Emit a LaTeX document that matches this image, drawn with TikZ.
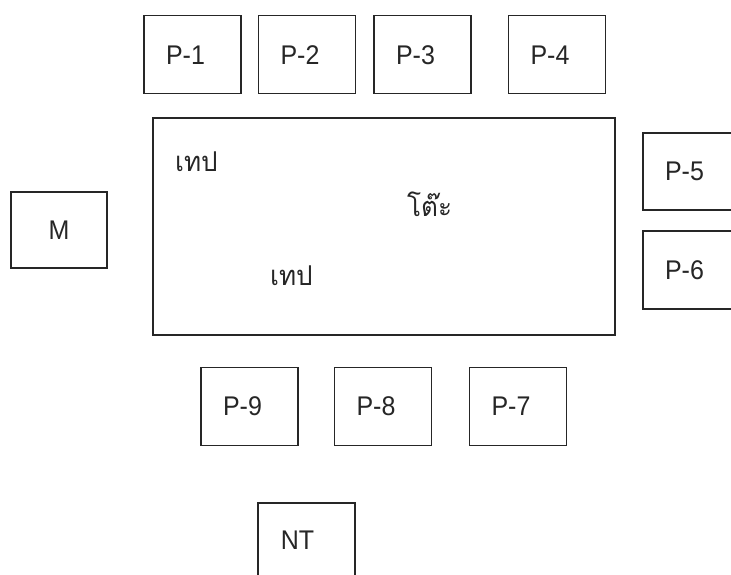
\documentclass[tikz,border=0pt]{standalone}
\usepackage{fontspec}
\setmainfont{Liberation Sans}
\newfontfamily\thaifont[Script=Thai]{Loma}
\tikzset{
  seat/.style={draw=black!85, line width=1.4pt, minimum width=97pt, minimum height=78pt, inner sep=0pt},
  lbl/.style={font=\fontsize{25}{30}\selectfont, text=black!85, inner sep=0pt, yscale=1.08},
  thai/.style={font=\thaifont\fontsize{26}{30}\selectfont, text=black!85, inner sep=0pt, anchor=base west, yscale=1.05},
}
\begin{document}
\begin{tikzpicture}[x=1pt,y=1pt]
\useasboundingbox (0,0) rectangle (731,574);
\clip (0,0) rectangle (731,574);
% table
\node[draw=black!85, line width=1.4pt, minimum width=462pt, minimum height=217pt, inner sep=0pt] (table) at (384,347.5) {};
% seats top
\node[seat] (p1) at (192.5,519.25) {};
\node[seat] (p2) at (307,519.25) {};
\node[seat] (p3) at (422.5,519.25) {};
\node[seat] (p4) at (557,519.25) {};
% seats right
\node[seat, minimum height=77pt] (p5) at (691.5,402.5) {};
\node[seat] (p6) at (691.5,304) {};
% seats bottom
\node[seat] (p9) at (249.5,167.5) {};
\node[seat] (p8) at (383,167.5) {};
\node[seat] (p7) at (518,167.5) {};
% M and NT
\node[seat, minimum width=96pt, minimum height=76pt] (m) at (59,344) {};
\node[seat] (nt) at (306.5,32) {};
% labels
\node[lbl] (l1) at ([xshift=-7pt]p1.center) {P-1};
\node[lbl] (l2) at ([xshift=-7pt]p2.center) {P-2};
\node[lbl] (l3) at ([xshift=-7pt]p3.center) {P-3};
\node[lbl] (l4) at ([xshift=-7pt]p4.center) {P-4};
\node[lbl] (l5) at ([xshift=-7pt]p5.center) {P-5};
\node[lbl] (l6) at ([xshift=-7pt]p6.center) {P-6};
\node[lbl] (l7) at ([xshift=-7pt]p7.center) {P-7};
\node[lbl] (l8) at ([xshift=-7pt]p8.center) {P-8};
\node[lbl] (l9) at ([xshift=-7pt]p9.center) {P-9};
\node[lbl] (lm) at (m.center) {M};
\node[lbl] (lnt) at ([xshift=-9pt,yshift=2pt]nt.center) {NT};
% thai texts
\node[thai] (tape1) at (175,402) {เทป};
\node[thai] (tape2) at (270,289) {เทป};
\node[thai] (desk) at (407,357) {โต๊ะ};
\end{tikzpicture}
\end{document}
